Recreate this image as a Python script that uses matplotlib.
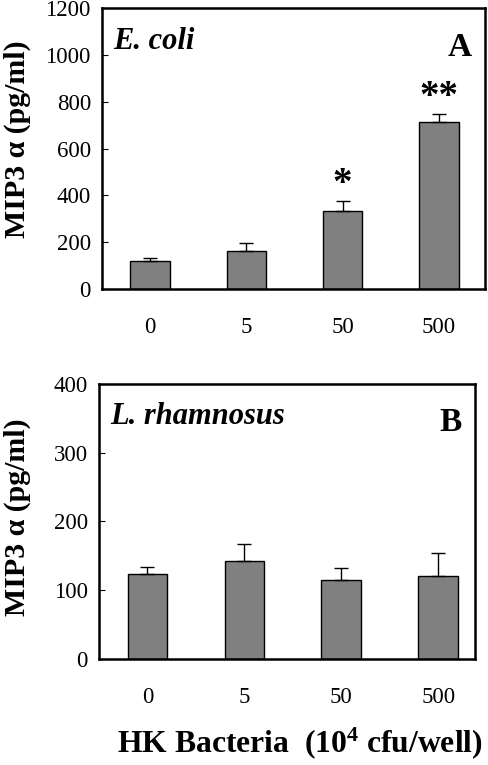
import matplotlib.pyplot as plt
import numpy as np

plt.rcParams['font.family'] = ['Liberation Serif', 'DejaVu Serif']
plt.rcParams['mathtext.fontset'] = 'custom'
plt.rcParams['mathtext.rm'] = 'Liberation Serif'
plt.rcParams['mathtext.bf'] = 'Liberation Serif:bold'

doses = ['0', '5', '50', '500']
ecoli_mean = [121, 164, 333, 714]
ecoli_err = [13, 32, 43, 33]
ecoli_sig = ['', '', '*', '**']
lrham_mean = [124, 143, 115, 121]
lrham_err = [10, 24, 18, 33]

fig = plt.figure(figsize=(4.88, 7.65), dpi=100)
axA = fig.add_axes([0.209, 0.6222, 0.785, 0.3673])
axB = fig.add_axes([0.2029, 0.1386, 0.7705, 0.3595])

x = np.arange(len(doses))


def panel(ax, mean, err, ymax, step, xmax, name, letter, ylab_xy):
    ax.bar(x, mean, width=0.41, color='#808080', edgecolor='black', linewidth=1.0, zorder=2)
    ax.errorbar(x, mean, yerr=[np.zeros(len(err)), err], fmt='none', ecolor='black',
                elinewidth=1.0, capsize=5, capthick=1.0, zorder=3)
    ax.set_xlim(-0.5, xmax)
    ax.set_ylim(0, ymax)
    ax.set_yticks(np.arange(0, ymax + 1, step))
    ax.set_xticks(x)
    ax.set_xticklabels(doses)
    ax.tick_params(axis='y', direction='in', length=4, width=0.8, pad=8, labelsize=16.5)
    ax.tick_params(axis='x', length=0, pad=20, labelsize=16.5)
    for s in ax.spines.values():
        s.set_linewidth(1.8)
    ax.set_ylabel('MIP3 α (pg/ml)', fontsize=21.5, fontweight='bold')
    ax.yaxis.set_label_coords(*ylab_xy)
    ax.text(0.03, 0.88, name, transform=ax.transAxes, fontsize=22, fontweight='bold',
            fontstyle='italic', va='center', ha='left')
    ax.text(0.965, 0.86, letter, transform=ax.transAxes, fontsize=24, fontweight='bold',
            va='center', ha='right')


panel(axA, ecoli_mean, ecoli_err, 1200, 200, 3.48, 'E. coli', 'A', (-0.186, 0.535))
panel(axB, lrham_mean, lrham_err, 400, 100, 3.38, 'L. rhamnosus', 'B', (-0.181, 0.515))

for i, s in enumerate(ecoli_sig):
    if s:
        axA.text(x[i], ecoli_mean[i] + ecoli_err[i] + 70, s, ha='center', va='center',
                 fontsize=28, fontweight='bold')

fig.text(0.615, 0.017, r'HK Bacteria  (10$\mathbf{^4}$ cfu/well)', ha='center', va='baseline',
         fontsize=22.8, fontweight='bold')

fig.savefig('out.png', dpi=100)
